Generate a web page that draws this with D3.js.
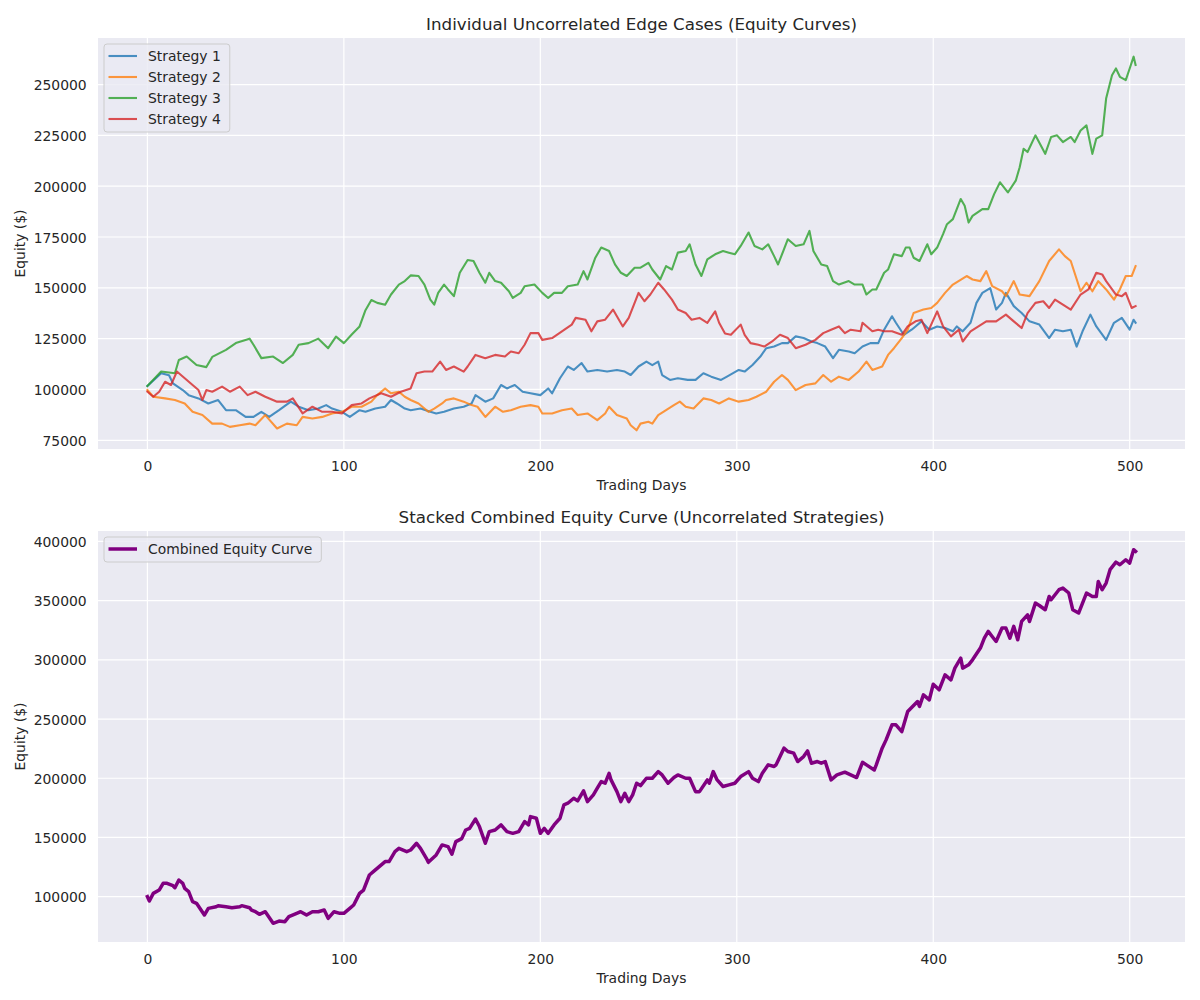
<html>
<head>
<script src="https://d3js.org/d3.v7.min.js"></script>
<style>
  body { margin: 0; background: #ffffff; }
  text { font-family: "DejaVu Sans", sans-serif; fill: #262626; }
</style>
</head>
<body>
<script type="text/javascript">

// equity values, [trading day, equity $]
var strategy1 = [[0,101700],[7,108000],[11,107000],[13,103000],[18,99700],[21,97200],[26,95600],[31,93100],[36,94800],[40,89800],[45,89800],[50,86500],[54,86500],[58,89000],[62,86500],[67,89800],[73,94000],[77,91500],[82,89800],[87,90600],[91,92300],[94,90600],[99,89000],[103,86500],[108,89800],[111,89000],[116,90600],[121,91500],[124,94800],[127,93100],[131,90600],[134,89800],[139,90600],[144,89000],[147,88200],[151,89000],[156,90600],[161,91500],[165,93100],[167,97200],[172,94000],[176,95600],[180,102200],[183,100500],[187,102200],[191,98900],[195,98100],[200,97200],[204,100500],[206,98100],[210,105500],[214,111300],[217,109600],[221,113000],[224,108800],[229,109600],[234,108800],[239,109600],[243,108800],[246,107100],[250,111300],[254,113700],[257,112000],[260,113700],[262,107100],[266,104700],[270,105500],[275,104700],[279,104700],[283,108000],[287,106300],[292,104700],[295,106300],[301,109600],[304,108800],[308,112000],[312,116200],[315,120300],[319,121100],[323,122800],[326,122800],[330,126100],[334,125300],[338,123600],[341,122800],[345,121100],[349,115400],[352,119500],[357,118700],[360,117800],[364,121100],[368,122800],[372,122800],[375,129400],[379,136000],[381,132800],[385,126900],[389,129400],[391,131000],[394,133500],[398,129400],[402,131000],[406,130200],[410,128600],[412,131000],[415,128600],[419,132800],[422,142600],[425,147500],[429,149900],[432,139300],[435,142600],[437,147500],[441,141000],[445,137600],[449,133500],[454,131900],[459,125300],[462,129400],[466,128600],[470,129400],[473,121100],[476,128600],[480,136800],[483,131000],[488,124400],[492,132800],[496,135200],[500,129400],[502,134300],[503,132800]];

var strategy2 = [[0,99700],[3,96400],[9,95600],[14,94800],[19,93100],[23,89000],[28,87400],[33,83200],[38,83200],[42,81600],[47,82400],[52,83200],[55,82400],[60,87400],[66,80800],[71,83200],[76,82400],[79,86500],[84,85700],[89,86500],[94,88200],[99,89000],[104,91500],[109,91500],[114,94000],[117,97200],[121,100500],[124,98100],[128,98900],[131,96400],[134,94800],[138,93100],[143,89000],[146,90600],[150,93100],[152,94800],[156,95600],[161,94000],[165,92300],[168,91500],[172,86500],[177,91500],[181,89000],[185,89800],[190,91500],[195,92300],[199,91500],[201,88200],[206,88200],[211,89800],[216,90600],[219,87400],[224,88200],[229,84900],[233,88200],[235,91500],[239,87400],[244,85700],[246,82400],[249,79900],[251,83200],[255,84100],[257,83200],[260,87400],[264,89800],[268,92300],[271,94000],[274,91500],[278,90600],[283,95600],[287,94800],[291,93100],[296,95600],[301,94000],[306,94800],[310,96400],[315,98900],[319,103800],[323,107100],[326,104700],[330,99700],[335,102200],[340,103000],[344,107100],[348,103800],[352,106300],[357,104700],[362,108800],[366,113700],[369,109600],[374,111300],[377,117000],[380,120300],[384,125300],[387,129400],[390,137600],[395,139300],[399,140100],[402,142600],[406,147500],[410,151600],[417,155800],[420,154100],[424,153300],[427,158200],[430,150800],[435,148300],[437,145900],[441,153300],[444,146700],[449,145900],[454,153300],[459,163200],[464,168900],[467,165600],[470,163200],[475,148300],[478,152500],[481,148300],[484,153300],[488,149200],[492,144200],[495,149200],[498,155800],[501,155800],[503,160700]];

var strategy3 = [[0,101700],[7,108800],[14,108000],[16,114500],[20,116200],[25,112000],[30,111000],[33,116000],[40,119500],[45,122800],[52,125000],[54,122000],[58,115400],[64,116200],[69,113000],[74,117000],[77,122000],[82,122800],[87,125000],[92,120300],[96,126000],[100,122800],[104,127000],[108,131000],[111,139000],[114,144000],[117,142600],[121,141700],[124,146700],[128,151600],[131,153300],[134,156100],[138,155800],[141,151600],[144,144200],[146,141700],[148,147500],[151,151600],[153,149200],[156,145900],[159,157400],[163,163700],[166,163200],[169,157400],[172,152500],[174,157400],[177,153300],[180,152500],[184,148300],[186,145000],[190,147500],[192,150800],[197,151600],[201,147500],[204,145000],[207,147500],[211,147500],[214,150800],[219,151600],[222,158200],[224,154100],[228,164800],[231,169800],[235,168100],[238,161500],[241,157400],[244,155800],[248,159900],[251,159900],[255,162300],[257,159000],[261,154100],[264,160700],[267,159000],[270,167300],[274,168100],[276,171400],[279,161500],[282,155800],[285,164000],[289,166500],[293,168100],[296,167300],[299,166500],[302,170600],[306,177200],[309,170600],[313,168900],[316,171400],[319,165600],[321,161500],[324,168900],[326,173900],[330,170600],[334,171400],[337,178000],[339,168100],[343,161500],[346,160700],[349,153300],[352,151600],[357,153300],[360,151600],[364,151600],[366,146700],[369,149200],[371,149200],[375,157400],[377,159000],[380,166500],[384,165600],[386,169800],[388,169800],[390,164800],[393,163200],[397,171400],[399,166500],[402,169800],[405,176400],[407,181300],[410,183800],[414,193700],[416,190400],[418,182100],[420,185400],[425,188700],[428,188700],[431,196100],[434,201900],[438,196900],[442,202700],[444,209300],[446,218400],[448,216800],[452,225000],[457,215900],[460,224200],[463,225000],[466,221700],[470,224200],[472,221700],[475,227400],[478,229900],[481,215900],[483,223400],[486,225000],[488,243100],[491,254600],[493,257900],[495,253800],[498,252200],[500,257900],[502,263700],[503,259600]];

var strategy4 = [[0,98900],[3,96400],[6,98900],[9,103800],[12,102200],[15,108800],[19,105500],[23,102200],[26,99700],[28,94800],[30,99700],[33,98900],[38,101400],[42,98900],[47,101400],[51,97200],[55,98900],[60,96400],[66,94000],[71,94000],[74,95600],[79,88200],[84,91500],[89,89000],[94,89000],[99,88200],[104,92300],[109,93100],[113,95600],[119,98100],[124,96400],[129,98900],[134,100500],[137,108000],[141,108800],[145,108800],[149,113700],[152,109600],[156,111300],[161,108800],[163,111300],[167,117000],[172,115400],[177,117000],[182,116200],[185,118700],[189,117800],[192,122000],[195,127700],[199,127700],[201,124400],[206,125300],[211,128600],[216,131900],[218,135200],[223,134300],[226,128600],[229,133500],[233,134300],[237,139300],[240,134300],[242,131000],[245,135200],[250,147500],[253,143400],[256,146700],[260,152500],[263,149200],[267,144200],[270,139300],[274,137600],[277,134300],[281,135200],[285,132800],[289,138400],[291,132800],[294,127500],[297,126900],[302,131900],[304,126900],[307,122800],[311,122000],[314,121100],[318,123600],[322,126900],[326,125300],[330,120300],[335,122000],[340,124400],[344,127700],[348,129400],[352,131000],[355,127700],[358,129400],[363,128600],[364,132800],[369,128600],[372,129400],[375,128600],[379,128600],[384,126900],[387,131000],[391,133500],[394,134300],[397,127700],[402,138400],[405,131000],[409,126100],[413,129400],[415,123600],[419,128600],[423,131000],[427,133500],[432,133500],[437,136800],[441,133500],[445,130200],[448,137600],[452,142600],[456,143400],[459,140100],[462,144200],[466,141700],[470,139300],[475,146700],[479,149200],[483,157400],[486,156600],[488,153300],[493,146700],[496,145900],[498,147500],[501,140100],[503,141000]];

var combined = [[0,100000],[1,96300],[3,102800],[6,105600],[8,111300],[10,111300],[13,109300],[14,107600],[16,114100],[18,111300],[19,107000],[21,104200],[23,95800],[25,94400],[29,84500],[31,90100],[35,91500],[36,92400],[40,91500],[43,90700],[47,91500],[48,92400],[52,90700],[53,88700],[55,87300],[57,85100],[60,87300],[64,77500],[67,79400],[70,78900],[72,83100],[76,85900],[78,87300],[81,84500],[84,87300],[87,87300],[90,88700],[92,81700],[95,87300],[98,85900],[100,85900],[103,90100],[105,93000],[108,102800],[110,105600],[113,118300],[115,121100],[118,125400],[121,129600],[123,129600],[126,138000],[128,140800],[132,138000],[134,139400],[137,145100],[139,140800],[142,132400],[143,129000],[147,135200],[150,143700],[153,142300],[155,135800],[157,146500],[160,149000],[162,156300],[164,157700],[167,165600],[169,159200],[172,145100],[174,154900],[177,156300],[180,160600],[183,154900],[186,153500],[189,154900],[192,163400],[194,160600],[195,167600],[198,166200],[200,153500],[202,157700],[204,153500],[207,160600],[210,166200],[212,177500],[214,178900],[217,183100],[219,180900],[222,189400],[224,180300],[227,186000],[229,191600],[231,197200],[233,195800],[235,204200],[236,198600],[239,188700],[241,180300],[243,187300],[245,180300],[247,186000],[249,195800],[251,193800],[254,200000],[257,200000],[260,205600],[262,202800],[265,195800],[268,200600],[270,202800],[274,200000],[276,200000],[279,188700],[281,188700],[285,198600],[286,195800],[288,205600],[290,198600],[293,193000],[296,194400],[299,195800],[302,201400],[306,205600],[308,200000],[311,197200],[313,204200],[316,211300],[319,209900],[320,211300],[324,225400],[326,222600],[329,221200],[331,214100],[334,218300],[336,223100],[338,212700],[341,214100],[343,212700],[345,214100],[348,198600],[351,202800],[355,205100],[358,202800],[361,200600],[364,213500],[366,211300],[370,207000],[371,211300],[374,225400],[376,232400],[379,245100],[381,245100],[384,239400],[387,256300],[392,264800],[393,260600],[395,270400],[398,266200],[400,279400],[403,274700],[406,287300],[409,283100],[411,293000],[414,301400],[415,293000],[418,295800],[420,300000],[424,309900],[426,318300],[428,324000],[430,319700],[432,315500],[435,326800],[437,326800],[439,318300],[441,328200],[443,316900],[445,332400],[448,338000],[449,332400],[452,347900],[454,345900],[457,342300],[459,353500],[460,350700],[464,359200],[466,360600],[469,356400],[471,342300],[474,339500],[476,347900],[478,356400],[481,353500],[483,353500],[484,366200],[486,359200],[488,364800],[490,376100],[493,382500],[495,380300],[498,384500],[500,381700],[502,393000],[503,391600]];

var strategyNames = ["Strategy 1", "Strategy 2", "Strategy 3", "Strategy 4"];
var strategyColors = ["#1f77b4", "#ff7f0e", "#2ca02c", "#d62728"];

var xTicks = [0, 100, 200, 300, 400, 500];
var topYTicks = [75000, 100000, 125000, 150000, 175000, 200000, 225000, 250000];
var bottomYTicks = [100000, 150000, 200000, 250000, 300000, 350000, 400000];

var svg = d3.select("body").append("svg")
	.attr("width", 1200)
	.attr("height", 1000);

var left = 98, right = 1185;

// matplotlib style 5% margins around the data
function padded(lo, hi) {
	var m = (hi - lo) * 0.05;
	return [lo - m, hi + m];
}

function drawPanel(p) {
	var allPts = d3.merge(p.series.map(function(s) { return s.data; }));

	var x = d3.scaleLinear()
		.domain(padded(d3.min(allPts, function(d) { return d[0]; }), d3.max(allPts, function(d) { return d[0]; })))
		.range([left, right]);
	var y = d3.scaleLinear()
		.domain(padded(d3.min(allPts, function(d) { return d[1]; }), d3.max(allPts, function(d) { return d[1]; })))
		.range([p.bottom, p.top]);

	var g = svg.append("g");

	g.append("rect")
		.attr("x", left).attr("y", p.top)
		.attr("width", right - left).attr("height", p.bottom - p.top)
		.attr("fill", "#eaeaf2");

	// white grid
	g.selectAll(".vgrid").data(p.xTicks).enter().append("line")
		.attr("x1", function(d) { return x(d); }).attr("x2", function(d) { return x(d); })
		.attr("y1", p.top).attr("y2", p.bottom)
		.attr("stroke", "#ffffff").attr("stroke-width", 1.2);
	g.selectAll(".hgrid").data(p.yTicks).enter().append("line")
		.attr("y1", function(d) { return y(d); }).attr("y2", function(d) { return y(d); })
		.attr("x1", left).attr("x2", right)
		.attr("stroke", "#ffffff").attr("stroke-width", 1.2);

	// axes, no tick marks and no spines
	var xa = g.append("g")
		.attr("transform", "translate(0," + p.bottom + ")")
		.call(d3.axisBottom(x).tickValues(p.xTicks).tickSize(0).tickPadding(11.8).tickFormat(d3.format("d")));
	var ya = g.append("g")
		.attr("transform", "translate(" + left + ",0)")
		.call(d3.axisLeft(y).tickValues(p.yTicks).tickSize(0).tickPadding(11.3).tickFormat(d3.format("d")));
	[xa, ya].forEach(function(a) {
		a.select(".domain").remove();
		a.selectAll("text")
			.attr("fill", "#262626")
			.style("font-family", "'DejaVu Sans', sans-serif")
			.style("font-size", "13.9px");
	});
	ya.selectAll("text").attr("dy", "0.36em");

	var line = d3.line()
		.x(function(d) { return x(d[0]); })
		.y(function(d) { return y(d[1]); });

	g.selectAll(".series").data(p.series).enter().append("path")
		.attr("d", function(s) { return line(s.data); })
		.attr("fill", "none")
		.attr("stroke", function(s) { return s.color; })
		.attr("stroke-opacity", function(s) { return s.opacity; })
		.attr("stroke-width", function(s) { return s.width; })
		.attr("stroke-linejoin", "round")
		.attr("stroke-linecap", "square");

	// title and axis labels
	g.append("text")
		.attr("x", (left + right) / 2).attr("y", p.top - 8.5)
		.attr("text-anchor", "middle")
		.style("font-size", "16.7px")
		.text(p.title);
	g.append("text")
		.attr("x", (left + right) / 2).attr("y", p.bottom + 41)
		.attr("text-anchor", "middle")
		.style("font-size", "13.9px")
		.text("Trading Days");
	g.append("text")
		.attr("transform", "translate(25," + ((p.top + p.bottom) / 2) + ") rotate(-90)")
		.attr("text-anchor", "middle")
		.style("font-size", "13.9px")
		.text("Equity ($)");

	// legend in the upper left
	var lg = g.append("g").attr("transform", "translate(104," + (p.top + 6) + ")");
	var frame = lg.append("rect")
		.attr("rx", 3).attr("ry", 3)
		.attr("fill", "#eaeaf2").attr("fill-opacity", 0.8)
		.attr("stroke", "#cccccc").attr("stroke-width", 1);
	var rows = lg.selectAll(".row").data(p.series).enter().append("g")
		.attr("transform", function(s, i) { return "translate(0," + (12 + i * 21) + ")"; });
	rows.append("line")
		.attr("x1", 4.5).attr("x2", 33).attr("y1", 0).attr("y2", 0)
		.attr("stroke", function(s) { return s.color; })
		.attr("stroke-opacity", function(s) { return s.opacity; })
		.attr("stroke-width", function(s) { return s.width; });
	rows.append("text")
		.attr("x", 44).attr("y", 5)
		.style("font-size", "13.9px")
		.text(function(s) { return s.name; });
	var maxLen = d3.max(rows.selectAll("text").nodes(), function(n) { return n.getComputedTextLength(); });
	frame.attr("x", 0).attr("y", 0)
		.attr("width", 44 + maxLen + 9)
		.attr("height", p.series.length * 21 + 4);
}

drawPanel({
	top: 38, bottom: 449,
	title: "Individual Uncorrelated Edge Cases (Equity Curves)",
	xTicks: xTicks, yTicks: topYTicks,
	series: [strategy1, strategy2, strategy3, strategy4].map(function(d, i) {
		return { name: strategyNames[i], color: strategyColors[i], data: d, width: 2.1, opacity: 0.8 };
	})
});

drawPanel({
	top: 531, bottom: 942,
	title: "Stacked Combined Equity Curve (Uncorrelated Strategies)",
	xTicks: xTicks, yTicks: bottomYTicks,
	series: [{ name: "Combined Equity Curve", color: "#800080", data: combined, width: 3.5, opacity: 1 }]
});

</script>
</body>
</html>
